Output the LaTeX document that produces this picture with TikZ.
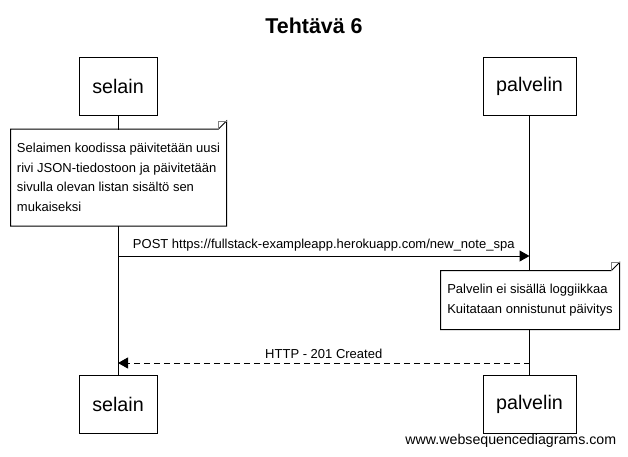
\documentclass[tikz,border=0pt]{standalone}
\usepackage{fontspec}
\setmainfont{Liberation Sans}
\usetikzlibrary{arrows.meta}

\tikzset{
	actor/.style={draw, line width=1pt, fill=white, minimum height=58pt, font=\fontsize{19.7}{22}\selectfont},
	notebox/.style={fill=white, align=left, inner sep=0pt, font=\fontsize{13}{19.5}\selectfont},
	msg/.style={line width=1pt, -{Triangle[length=10pt,width=11pt]}},
	msglabel/.style={font=\fontsize{13}{15}\selectfont, above=1pt}
}

\begin{document}
\begin{tikzpicture}[x=1pt, y=-1pt, line width=1pt]
		\useasboundingbox (0,0) rectangle (628,456);

		\node[font=\bfseries\fontsize{21.4}{24}\selectfont] (title) at (314,26) {Tehtävä 6};

		% Draw the participants
		\node[actor, minimum width=78pt] (selainTop) at (118,86) {selain};
		\node[actor, minimum width=93pt] (palvelinTop) at (529.5,86) {palvelin};
		\node[actor, minimum width=78pt] (selainBot) at (118,404) {selain};
		\node[actor, minimum width=93pt] (palvelinBot) at (529.5,404) {palvelin};

		% Draw the lifelines
		\draw[-] (selainTop) -- (selainBot);
		\draw[-] (palvelinTop) -- (palvelinBot);

		% Draw the notes
		\node[notebox, minimum width=215pt, minimum height=96pt] (noteSelain) at (118.5,177.5) {Selaimen koodissa päivitetään uusi\\rivi JSON-tiedostoon ja päivitetään\\sivulla olevan listan sisältö sen\\mukaiseksi};
		\node[notebox, minimum width=178pt, minimum height=58pt] (notePalvelin) at (530,300) {Palvelin ei sisällä loggiikkaa\\Kuitataan onnistunut päivitys};

		\foreach \n in {noteSelain, notePalvelin} {
			\draw[-] (\n.south west) -- (\n.north west) -- ([xshift=-8pt]\n.north east) -- ([yshift=8pt]\n.north east) -- (\n.south east) -- cycle;
			\draw[-, gray] ([xshift=-8pt]\n.north east) |- ([yshift=8pt]\n.north east);
		}

		% Draw the messages
		\coordinate (postFrom) at (selainTop |- 0,256);
		\coordinate (postTo) at (palvelinTop |- 0,256);
		\coordinate (replyFrom) at (palvelinTop |- 0,363);
		\coordinate (replyTo) at (selainTop |- 0,363);

		\draw[msg] (postFrom) -- (postTo) node[midway, msglabel] {POST https://fullstack-exampleapp.herokuapp.com/new\_note\_spa};
		\draw[msg, dash pattern=on 6pt off 4pt] (replyFrom) -- (replyTo) node[midway, msglabel] {HTTP - 201 Created};

		\node[anchor=east, font=\fontsize{14.2}{16}\selectfont] (credit) at (620,441) {www.websequencediagrams.com};

	\end{tikzpicture}
\end{document}
